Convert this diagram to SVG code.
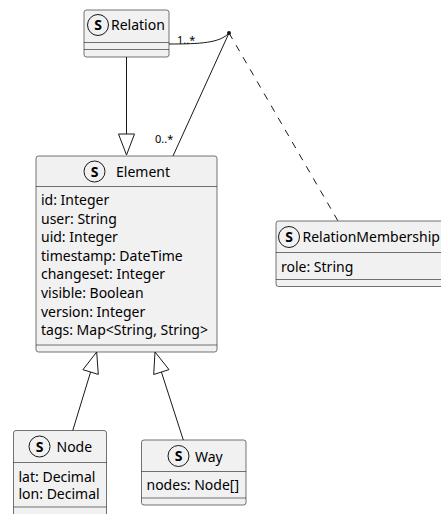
<svg xmlns="http://www.w3.org/2000/svg" width="441" height="514" viewBox="0 0 441 514">
  <style>
    .box { fill: #F1F1F1; stroke: #181818; stroke-width: 0.6; }
    .sep { stroke: #181818; stroke-width: 0.6; }
    .spot { fill: #F1F1F1; stroke: #181818; stroke-width: 1; }
    .spotS { font-family: "Noto Sans", "DejaVu Sans", sans-serif; font-size: 14px; font-weight: bold; fill: #000; text-anchor: middle; }
    .name { font-family: "Noto Sans", "DejaVu Sans", sans-serif; font-size: 14px; fill: #000; }
    .attr { font-family: "Noto Sans", "DejaVu Sans", sans-serif; font-size: 14px; fill: #000; }
    .lbl { font-family: "Noto Sans", "DejaVu Sans", sans-serif; font-size: 11px; fill: #000; }
    .edge { fill: none; stroke: #181818; stroke-width: 1; }
    .dash { fill: none; stroke: #181818; stroke-width: 1; stroke-dasharray: 7 7; }
    .ext { fill: #FFFFFF; stroke: #181818; stroke-width: 1; }
  </style>

  <!-- connectors -->
  <g id="connectors">
    <!-- Relation extends Element -->
    <line class="edge" x1="126.5" y1="57" x2="126.5" y2="134"/>
    <polygon class="ext" points="126.5,155 118.5,134 134.5,134"/>
    <!-- association Relation 1..* / Element 0..* -->
    <path class="edge" d="M169,44 C200,44 220,43 229,33"/>
    <line class="edge" x1="173" y1="156" x2="229" y2="33"/>
    <circle cx="229" cy="33" r="2" fill="#181818"/>
    <text class="lbl" x="177" y="44">1..*</text>
    <text class="lbl" x="155" y="143">0..*</text>
    <!-- association class link -->
    <line class="dash" x1="229" y1="33" x2="338" y2="221"/>
    <!-- Node extends Element -->
    <line class="edge" x1="72.7" y1="430.7" x2="90.6" y2="372"/>
    <polygon class="ext" points="96.7,352 98.3,374.4 82.9,369.7"/>
    <!-- Way extends Element -->
    <line class="edge" x1="183.3" y1="440" x2="161.4" y2="372"/>
    <polygon class="ext" points="155,352 169,369.6 153.7,374.5"/>
  </g>

  <!-- Relation -->
  <g id="Relation">
    <rect class="box" x="84" y="10" width="85" height="47" rx="2.5"/>
    <circle class="spot" cx="98" cy="25" r="10.5"/>
    <text class="spotS" x="98" y="30">S</text>
    <text class="name" x="111" y="30">Relation</text>
    <line class="sep" x1="84" y1="42.5" x2="169" y2="42.5"/>
    <line class="sep" x1="84" y1="49.5" x2="169" y2="49.5"/>
  </g>

  <!-- Element -->
  <g id="Element">
    <rect class="box" x="36" y="156" width="181" height="196" rx="2.5"/>
    <circle class="spot" cx="94.5" cy="171.5" r="10.5"/>
    <text class="spotS" x="94.5" y="176.5">S</text>
    <text class="name" x="116" y="176.5">Element</text>
    <line class="sep" x1="36" y1="186.5" x2="217" y2="186.5"/>
    <text class="attr" x="41" y="205">id: Integer</text>
    <text class="attr" x="41" y="223.6">user: String</text>
    <text class="attr" x="41" y="242.2">uid: Integer</text>
    <text class="attr" x="41" y="260.8">timestamp: DateTime</text>
    <text class="attr" x="41" y="279.4">changeset: Integer</text>
    <text class="attr" x="41" y="298">visible: Boolean</text>
    <text class="attr" x="41" y="316.6">version: Integer</text>
    <text class="attr" x="41" y="335.2">tags: Map&lt;String, String&gt;</text>
    <line class="sep" x1="36" y1="345" x2="217" y2="345"/>
  </g>

  <!-- RelationMembership -->
  <g id="RelationMembership">
    <rect class="box" x="276" y="221" width="170" height="65.5" rx="2.5"/>
    <circle class="spot" cx="289" cy="237" r="10.5"/>
    <text class="spotS" x="289" y="242">S</text>
    <text class="name" x="302.5" y="242">RelationMembership</text>
    <line class="sep" x1="276" y1="252.5" x2="446" y2="252.5"/>
    <text class="attr" x="281" y="271.5">role: String</text>
    <line class="sep" x1="276" y1="279.5" x2="446" y2="279.5"/>
  </g>

  <!-- Node -->
  <g id="Node">
    <rect class="box" x="13.5" y="430.5" width="93" height="90" rx="2.5"/>
    <circle class="spot" cx="39.5" cy="446.5" r="10.5"/>
    <text class="spotS" x="39.5" y="451.5">S</text>
    <text class="name" x="56.5" y="451.5">Node</text>
    <line class="sep" x1="13.5" y1="462.5" x2="106.5" y2="462.5"/>
    <text class="attr" x="18.5" y="481.5">lat: Decimal</text>
    <text class="attr" x="18.5" y="499">lon: Decimal</text>
    <line class="sep" x1="13.5" y1="507" x2="106.5" y2="507"/>
  </g>

  <!-- Way -->
  <g id="Way">
    <rect class="box" x="141.5" y="440" width="104.5" height="65" rx="2.5"/>
    <circle class="spot" cx="178.5" cy="456" r="10.5"/>
    <text class="spotS" x="178.5" y="461">S</text>
    <text class="name" x="195" y="461.5">Way</text>
    <line class="sep" x1="141.5" y1="471.5" x2="246" y2="471.5"/>
    <text class="attr" x="146.5" y="490">nodes: Node[]</text>
    <line class="sep" x1="141.5" y1="498" x2="246" y2="498"/>
  </g>
</svg>
